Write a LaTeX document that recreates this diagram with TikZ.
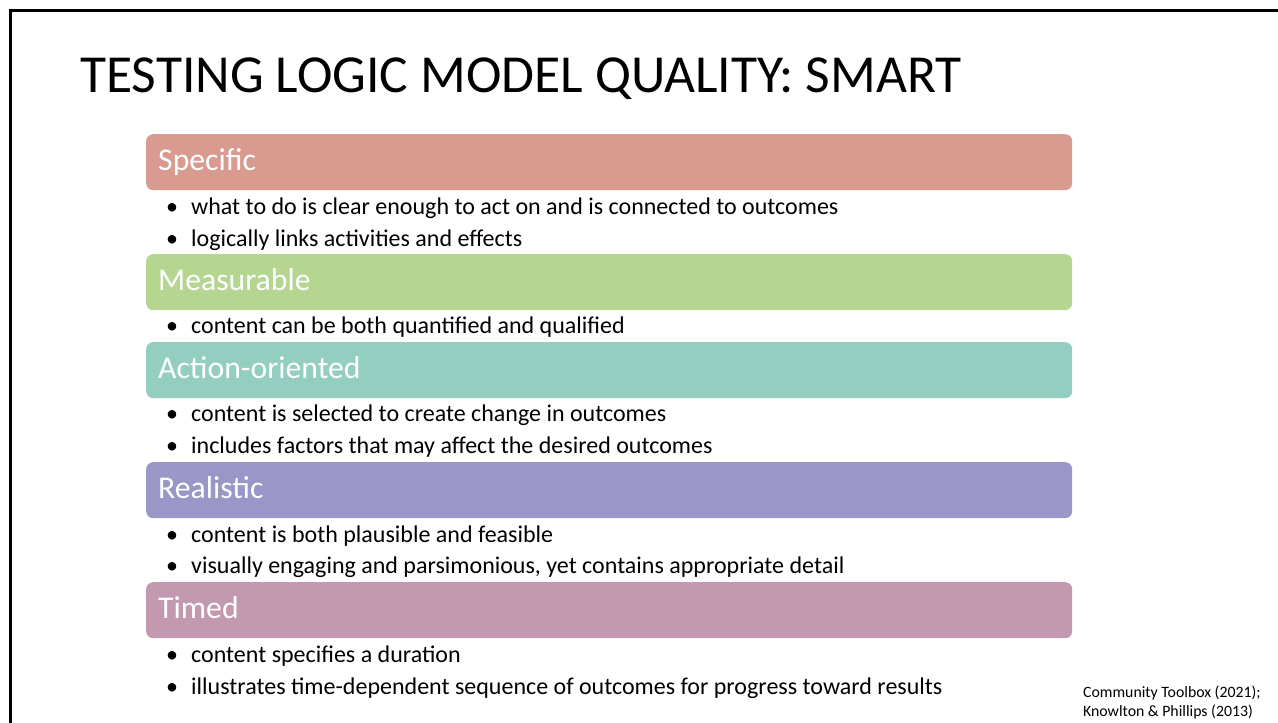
\documentclass[tikz,border=0pt]{standalone}
\usepackage{fontspec}
\setmainfont{Carlito}
\usetikzlibrary{positioning}

\definecolor{specificred}{HTML}{D99A8F}
\definecolor{measgreen}{HTML}{B5D691}
\definecolor{actionteal}{HTML}{94CEC0}
\definecolor{realpurple}{HTML}{9B96C8}
\definecolor{timedmauve}{HTML}{C399B0}

\newcommand{\bul}{\makebox[25pt][l]{\textbullet}}

\begin{document}
\begin{tikzpicture}[
    x=1pt, y=-1pt,
    bar/.style={rectangle, rounded corners=7pt, anchor=north west, minimum width=926pt, minimum height=56pt,
        inner xsep=12pt, text width=902pt, align=left, text=white, font=\fontsize{31.7}{36}\selectfont,
        text height=24pt, text depth=7pt},
    point/.style={anchor=base west, inner sep=0pt, font=\fontsize{24}{29}\selectfont},
    frame/.style={line width=2.5pt, line cap=rect}
]
\useasboundingbox (0,0) rectangle (1278,723);

% Slide frame
\coordinate (fbot) at (10.5,723);
\coordinate (fcorner) at (10.5,10.5);
\coordinate (fright) at (1278,10.5);
\draw[frame] (fbot) -- (fcorner) -- (fright);

% Title
\node[anchor=base west, inner sep=0pt, font=\fontsize{53.5}{60}\selectfont] (title) at (80,92) {TESTING LOGIC MODEL QUALITY: SMART};

% Headers
\node[bar, fill=specificred] (spec) at (146,134) {Specific};
\node[bar, fill=measgreen] (meas) at (146,254) {Measurable};
\node[bar, fill=actionteal] (act) at (146,342) {Action-oriented};
\node[bar, fill=realpurple] (real) at (146,462) {Realistic};
\node[bar, fill=timedmauve] (timed) at (146,582) {Timed};

% Bullet points
\node[point] (s1) at (166,214.5) {\bul what to do is clear enough to act on and is connected to outcomes};
\node[point] (s2) at (166,246.5) {\bul logically links activities and effects};
\node[point] (m1) at (166,333.5) {\bul content can be both quantified and qualified};
\node[point] (a1) at (166,421.5) {\bul content is selected to create change in outcomes};
\node[point] (a2) at (166,453.5) {\bul includes factors that may affect the desired outcomes};
\node[point] (r1) at (166,542.5) {\bul content is both plausible and feasible};
\node[point] (r2) at (166,573.5) {\bul visually engaging and parsimonious, yet contains appropriate detail};
\node[point] (t1) at (166,662.5) {\bul content specifies a duration};
\node[point] (t2) at (166,694.5) {\bul illustrates time-dependent sequence of outcomes for progress toward results};

% Citation
\node[anchor=base west, inner sep=0pt, align=left, font=\fontsize{15.8}{19}\selectfont] (cite) at (1083,716) {Community Toolbox (2021);\\Knowlton \& Phillips (2013)};

\end{tikzpicture}
\end{document}
